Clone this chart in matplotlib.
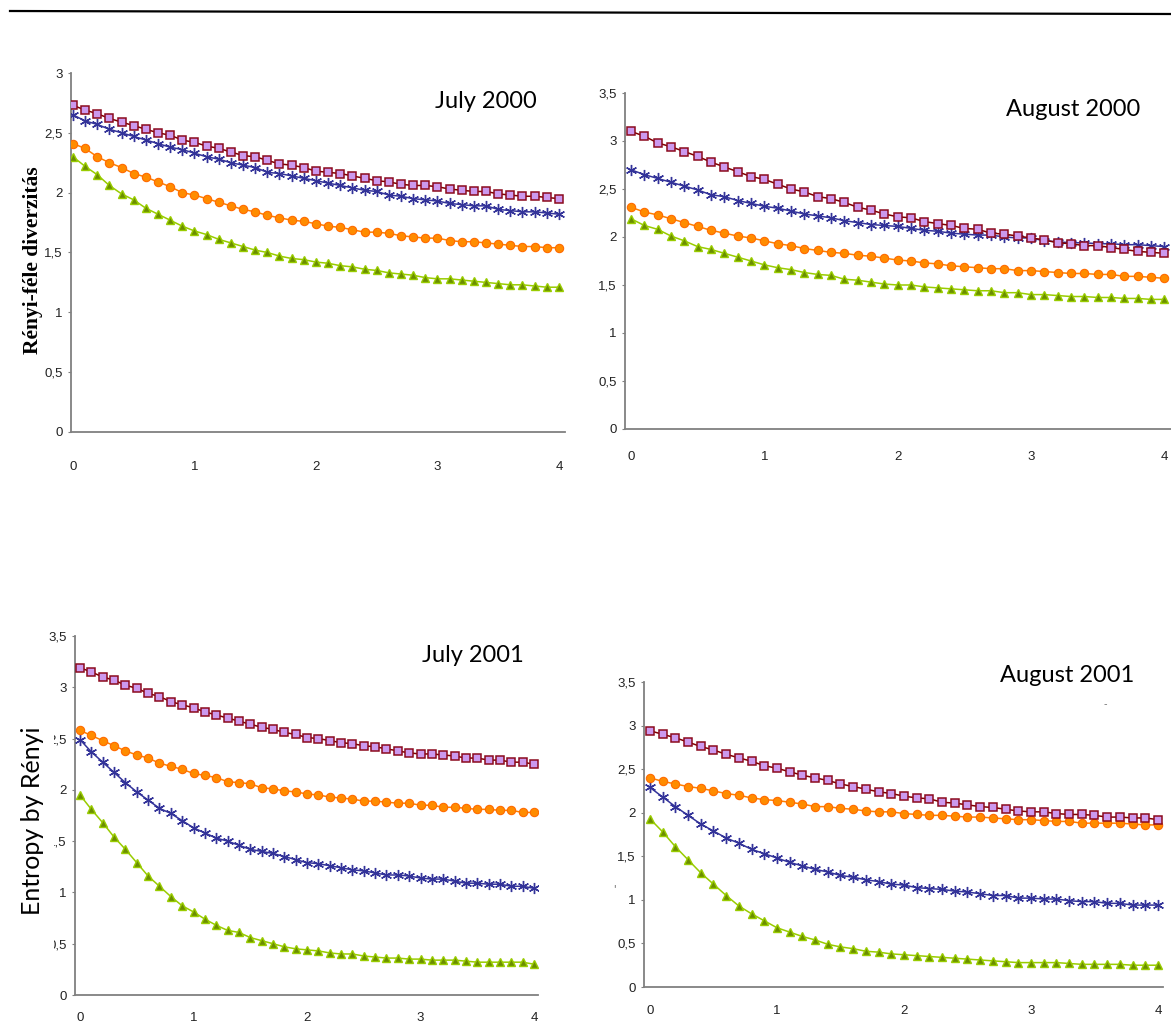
import numpy as np
import matplotlib.pyplot as plt
from matplotlib.lines import Line2D
from matplotlib.patches import Rectangle

# alpha (rendu Renyi), 0 .. 4 co 0,1
alpha = np.linspace(0, 4, 41)

# July 2000
jul00_sq = [2.73, 2.69, 2.66, 2.62, 2.59, 2.56, 2.53, 2.50, 2.48, 2.44, 2.42, 2.39, 2.37, 2.34, 2.31, 2.30, 2.27, 2.24, 2.23, 2.21,
            2.18, 2.17, 2.16, 2.14, 2.12, 2.10, 2.09, 2.07, 2.06, 2.06, 2.05, 2.03, 2.02, 2.01, 2.01, 1.99, 1.98, 1.97, 1.97, 1.96, 1.95]
jul00_st = [2.65, 2.60, 2.57, 2.53, 2.50, 2.47, 2.44, 2.41, 2.38, 2.36, 2.33, 2.30, 2.28, 2.25, 2.23, 2.21, 2.17, 2.16, 2.14, 2.12,
            2.10, 2.08, 2.06, 2.04, 2.02, 2.01, 1.98, 1.97, 1.95, 1.94, 1.93, 1.91, 1.90, 1.89, 1.89, 1.86, 1.85, 1.84, 1.84, 1.83, 1.82]
jul00_ci = [2.41, 2.37, 2.30, 2.25, 2.21, 2.16, 2.13, 2.09, 2.05, 2.00, 1.98, 1.95, 1.92, 1.89, 1.86, 1.84, 1.81, 1.79, 1.77, 1.76,
            1.74, 1.72, 1.71, 1.69, 1.67, 1.67, 1.66, 1.64, 1.63, 1.62, 1.62, 1.60, 1.59, 1.59, 1.58, 1.57, 1.56, 1.55, 1.55, 1.54, 1.54]
jul00_tr = [2.30, 2.22, 2.15, 2.06, 1.99, 1.94, 1.87, 1.82, 1.77, 1.72, 1.68, 1.65, 1.61, 1.58, 1.55, 1.52, 1.50, 1.47, 1.45, 1.44,
            1.42, 1.41, 1.39, 1.38, 1.36, 1.35, 1.33, 1.32, 1.31, 1.29, 1.28, 1.28, 1.27, 1.26, 1.25, 1.24, 1.23, 1.23, 1.22, 1.21, 1.21]

# August 2000
aug00_sq = [3.10, 3.05, 2.98, 2.94, 2.89, 2.84, 2.78, 2.73, 2.68, 2.63, 2.60, 2.55, 2.50, 2.47, 2.42, 2.40, 2.36, 2.31, 2.28, 2.24,
            2.21, 2.20, 2.16, 2.14, 2.12, 2.09, 2.08, 2.04, 2.03, 2.01, 1.99, 1.97, 1.94, 1.93, 1.91, 1.91, 1.89, 1.87, 1.85, 1.84, 1.83]
aug00_st = [2.70, 2.65, 2.61, 2.57, 2.53, 2.49, 2.44, 2.42, 2.38, 2.35, 2.32, 2.30, 2.27, 2.24, 2.22, 2.20, 2.17, 2.15, 2.13, 2.12,
            2.11, 2.09, 2.07, 2.06, 2.04, 2.03, 2.02, 2.02, 2.00, 1.99, 1.99, 1.96, 1.95, 1.94, 1.94, 1.93, 1.93, 1.92, 1.92, 1.91, 1.90]
aug00_ci = [2.31, 2.26, 2.23, 2.19, 2.15, 2.11, 2.07, 2.04, 2.01, 1.99, 1.96, 1.93, 1.91, 1.88, 1.86, 1.84, 1.83, 1.81, 1.80, 1.78,
            1.76, 1.75, 1.73, 1.72, 1.70, 1.69, 1.68, 1.67, 1.67, 1.65, 1.65, 1.64, 1.63, 1.62, 1.62, 1.61, 1.61, 1.59, 1.59, 1.58, 1.57]
aug00_tr = [2.19, 2.12, 2.08, 2.01, 1.96, 1.90, 1.87, 1.83, 1.79, 1.75, 1.71, 1.68, 1.66, 1.63, 1.61, 1.60, 1.56, 1.55, 1.53, 1.51,
            1.50, 1.50, 1.48, 1.47, 1.46, 1.45, 1.44, 1.44, 1.42, 1.42, 1.40, 1.40, 1.39, 1.38, 1.38, 1.37, 1.37, 1.36, 1.36, 1.35, 1.35]

# July 2001
jul01_sq = [3.19, 3.15, 3.10, 3.07, 3.02, 2.99, 2.94, 2.91, 2.86, 2.83, 2.80, 2.76, 2.73, 2.70, 2.67, 2.64, 2.61, 2.59, 2.56, 2.54,
            2.51, 2.50, 2.48, 2.46, 2.45, 2.43, 2.42, 2.40, 2.38, 2.36, 2.35, 2.35, 2.34, 2.33, 2.31, 2.31, 2.29, 2.29, 2.27, 2.27, 2.25]
jul01_st = [2.49, 2.37, 2.27, 2.17, 2.07, 1.98, 1.90, 1.82, 1.77, 1.70, 1.63, 1.58, 1.53, 1.50, 1.46, 1.42, 1.40, 1.38, 1.35, 1.32,
            1.29, 1.28, 1.26, 1.24, 1.22, 1.21, 1.19, 1.17, 1.17, 1.16, 1.14, 1.13, 1.13, 1.11, 1.09, 1.09, 1.08, 1.08, 1.06, 1.06, 1.04]
jul01_ci = [2.58, 2.53, 2.48, 2.43, 2.38, 2.34, 2.31, 2.26, 2.23, 2.20, 2.16, 2.14, 2.12, 2.08, 2.07, 2.06, 2.02, 2.01, 1.99, 1.98,
            1.96, 1.95, 1.93, 1.92, 1.91, 1.89, 1.89, 1.88, 1.87, 1.87, 1.85, 1.85, 1.83, 1.83, 1.82, 1.81, 1.81, 1.80, 1.80, 1.78, 1.78]
jul01_tr = [1.95, 1.81, 1.68, 1.54, 1.42, 1.29, 1.16, 1.06, 0.96, 0.87, 0.81, 0.74, 0.68, 0.63, 0.61, 0.56, 0.53, 0.50, 0.47, 0.45,
            0.44, 0.43, 0.41, 0.40, 0.40, 0.38, 0.37, 0.36, 0.36, 0.35, 0.35, 0.34, 0.34, 0.34, 0.33, 0.32, 0.32, 0.32, 0.32, 0.32, 0.30]

# August 2001
aug01_sq = [2.94, 2.90, 2.86, 2.81, 2.76, 2.72, 2.67, 2.63, 2.59, 2.54, 2.51, 2.47, 2.43, 2.40, 2.37, 2.33, 2.30, 2.27, 2.24, 2.22,
            2.19, 2.17, 2.16, 2.12, 2.11, 2.09, 2.07, 2.06, 2.04, 2.02, 2.01, 2.01, 1.99, 1.98, 1.98, 1.97, 1.95, 1.95, 1.94, 1.94, 1.92]
aug01_st = [2.29, 2.18, 2.07, 1.97, 1.87, 1.79, 1.71, 1.65, 1.58, 1.53, 1.48, 1.43, 1.39, 1.35, 1.32, 1.28, 1.26, 1.23, 1.21, 1.18,
            1.17, 1.14, 1.13, 1.12, 1.10, 1.09, 1.07, 1.05, 1.05, 1.02, 1.02, 1.01, 1.01, 0.99, 0.98, 0.98, 0.96, 0.96, 0.94, 0.94, 0.94]
aug01_ci = [2.40, 2.36, 2.33, 2.30, 2.28, 2.25, 2.22, 2.20, 2.17, 2.15, 2.14, 2.12, 2.10, 2.07, 2.07, 2.05, 2.04, 2.02, 2.01, 2.01,
            1.99, 1.98, 1.97, 1.97, 1.96, 1.95, 1.95, 1.94, 1.93, 1.92, 1.92, 1.91, 1.90, 1.90, 1.88, 1.88, 1.88, 1.88, 1.87, 1.86, 1.86]
aug01_tr = [1.93, 1.78, 1.61, 1.46, 1.31, 1.18, 1.05, 0.93, 0.84, 0.76, 0.68, 0.63, 0.58, 0.54, 0.49, 0.46, 0.44, 0.41, 0.40, 0.38,
            0.37, 0.36, 0.35, 0.34, 0.33, 0.32, 0.31, 0.30, 0.29, 0.28, 0.28, 0.28, 0.28, 0.27, 0.26, 0.26, 0.26, 0.26, 0.25, 0.25, 0.25]

xticks = [0, 1, 2, 3, 4]
yticks_3 = [0, 0.5, 1, 1.5, 2, 2.5, 3]
ylabels_3 = ['0', '0,5', '1', '1,5', '2', '2,5', '3']
yticks_35 = [0, 0.5, 1, 1.5, 2, 2.5, 3, 3.5]
ylabels_35 = ['0', '0,5', '1', '1,5', '2', '2,5', '3', '3,5']

W, H = 1171, 1025
fig = plt.figure(figsize=(W / 100, H / 100), dpi=100)

tick_font = ['Liberation Sans Narrow', 'Liberation Sans', 'DejaVu Sans']
title_font = ['Lato', 'DejaVu Sans']


def px_axes(x0, y_top, x1, y_bot):
    return fig.add_axes([x0 / W, 1 - y_bot / H, (x1 - x0) / W, (y_bot - y_top) / H])


def draw_panel(ax, sq, st, ci, tr, xlim, ylim, yt, yl, xpad):
    ax.plot(alpha, sq, color='#800000', lw=1.1, marker='s', ms=5.6,
            mfc='#cc99ee', mec='#8b0a1e', mew=1.1, zorder=4)
    ax.plot(alpha, st, color='#333399', lw=1.1, marker=(6, 2, 0), ms=8,
            mec='#333399', mew=1.0, zorder=3)
    ax.plot(alpha, ci, color='#ff7f00', lw=1.1, marker='o', ms=6,
            mfc='#ff8c00', mec='#ff6a00', mew=0.8, zorder=3)
    ax.plot(alpha, tr, color='#99cc00', lw=1.1, marker='^', ms=6.3,
            mfc='#6b8e00', mec='#99cc00', mew=1.0, zorder=3)
    ax.set_xlim(*xlim)
    ax.set_ylim(*ylim)
    ax.set_xticks(xticks)
    ax.set_xticklabels([str(v) for v in xticks], family=tick_font, fontsize=9.5)
    ax.set_yticks(yt)
    ax.set_yticklabels(yl, family=tick_font, fontsize=9.5)
    ax.tick_params(axis='x', length=0, pad=xpad)
    ax.tick_params(axis='y', length=2, width=0.8, color='#808080', pad=4)
    for s in ['top', 'right']:
        ax.spines[s].set_visible(False)
    for s in ['left', 'bottom']:
        ax.spines[s].set_color('#808080')
        ax.spines[s].set_linewidth(1.3)
    for lab in ax.get_xticklabels() + ax.get_yticklabels():
        lab.set_color('#222222')


ax1 = px_axes(71, 73, 565, 432)
draw_panel(ax1, jul00_sq, jul00_st, jul00_ci, jul00_tr, (-0.016, 4.05), (0, 3), yticks_3, ylabels_3, 21)
ax1.text(0.84, 0.92, 'July 2000', transform=ax1.transAxes, ha='center', va='center',
         family=title_font, fontsize=17)

ax2 = px_axes(625, 93, 1171, 429)
draw_panel(ax2, aug00_sq, aug00_st, aug00_ci, aug00_tr, (-0.045, 4.05), (0, 3.5), yticks_35, ylabels_35, 16)
ax2.text(0.82, 0.95, 'August 2000', transform=ax2.transAxes, ha='center', va='center',
         family=title_font, fontsize=17)

ax3 = px_axes(75, 636, 538, 995)
draw_panel(ax3, jul01_sq, jul01_st, jul01_ci, jul01_tr, (-0.044, 4.035), (0, 3.5), yticks_35, ylabels_35, 12)
ax3.text(0.86, 0.945, 'July 2001', transform=ax3.transAxes, ha='center', va='center',
         family=title_font, fontsize=17)

ax4 = px_axes(644, 682, 1163, 987)
draw_panel(ax4, aug01_sq, aug01_st, aug01_ci, aug01_tr, (-0.047, 4.04), (0, 3.5), yticks_35, ylabels_35, 13)
ax4.text(0.815, 1.02, 'August 2001', transform=ax4.transAxes, ha='center', va='center',
         family=title_font, fontsize=17)

# osie Y
fig.text(33 / W, 1 - 260 / H, 'Rényi-féle diverzitás', rotation=90, ha='center', va='center',
         family=['Liberation Serif', 'DejaVu Serif'], fontweight='bold', fontsize=15.5)

# bialy prostokat zaslania czesc etykiet (jak w oryginale)
fig.patches.append(Rectangle((14 / W, 1 - 960 / H), 40 / W, 248 / H, transform=fig.transFigure,
                             facecolor='white', edgecolor='none', zorder=5))
fig.text(33 / W, 1 - 821 / H, 'Entropy by Rényi', rotation=90, ha='center', va='center',
         family=title_font, fontsize=18, zorder=6)

# drobne slady z oryginalu
fig.text(1105 / W, 1 - 704 / H, '-', color='#777777', fontsize=7, ha='center', va='center')
fig.text(614 / W, 1 - 889 / H, "'", color='#555555', fontsize=7, ha='center', va='center')

# linia na gorze
fig.add_artist(Line2D([10 / W, 1.0], [1 - 11 / H, 1 - 14 / H], transform=fig.transFigure,
                      color='black', lw=1.6))

plt.savefig('out.png', dpi=100)
